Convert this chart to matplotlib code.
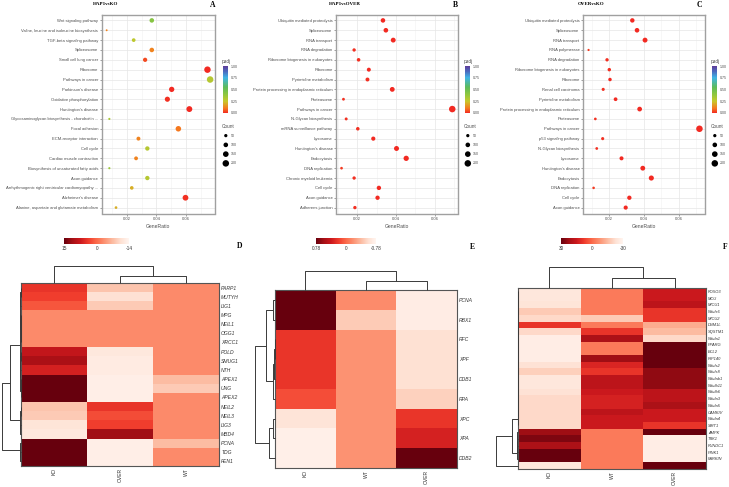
import numpy as np
import matplotlib
matplotlib.use("Agg")
import matplotlib.pyplot as plt
from matplotlib.colors import LinearSegmentedColormap
from matplotlib.ticker import MultipleLocator

plt.rcParams['font.family'] = ['Liberation Sans', 'DejaVu Sans']

W, H = 729, 487

# ---------------- KEGG dot plots ----------------
a_terms = ["Wnt signaling pathway", "Valine, leucine and isoleucine biosynthesis",
           "TGF-beta signaling pathway", "Spliceosome", "Small cell lung cancer", "Ribosome",
           "Pathways in cancer", "Parkinson's disease", "Oxidative phosphorylation",
           "Huntington's disease", "Glycosaminoglycan biosynthesis - chondroitin ...",
           "Focal adhesion", "ECM-receptor interaction", "Cell cycle", "Cardiac muscle contraction",
           "Biosynthesis of unsaturated fatty acids", "Axon guidance",
           "Arrhythmogenic right ventricular cardiomyopathy ...", "Alzheimer's disease",
           "Alanine, aspartate and glutamate metabolism"]
a_ratio = [0.0369, 0.0065, 0.0247, 0.0369, 0.0324, 0.0744, 0.0762, 0.0503, 0.0474, 0.0622,
           0.0083, 0.0548, 0.0279, 0.0339, 0.0263, 0.0083, 0.0339, 0.0234, 0.0596, 0.0128]
a_count = [97, 17, 65, 97, 85, 196, 200, 132, 125, 164, 22, 144, 73, 89, 69, 22, 89, 62, 157, 34]
a_padj = [0.42, 0.12, 0.28, 0.12, 0.04, 0.0, 0.30, 0.0, 0.01, 0.0,
          0.33, 0.10, 0.12, 0.30, 0.12, 0.36, 0.30, 0.20, 0.01, 0.20]

b_terms = ["Ubiquitin mediated proteolysis", "Spliceosome", "RNA transport", "RNA degradation",
           "Ribosome biogenesis in eukaryotes", "Ribosome", "Pyrimidine metabolism",
           "Protein processing in endoplasmic reticulum", "Proteasome", "Pathways in cancer",
           "N-Glycan biosynthesis", "mRNA surveillance pathway", "Lysosome", "Huntington's disease",
           "Endocytosis", "DNA replication", "Chronic myeloid leukemia", "Cell cycle",
           "Axon guidance", "Adherens junction"]
b_ratio = [0.0333, 0.0348, 0.0386, 0.0184, 0.0207, 0.0260, 0.0253, 0.0381, 0.0129, 0.0691,
           0.0143, 0.0203, 0.0283, 0.0403, 0.0453, 0.0119, 0.0184, 0.0312, 0.0305, 0.0188]
b_count = [97, 101, 112, 53, 60, 75, 73, 110, 37, 200, 41, 59, 82, 117, 131, 34, 53, 90, 88, 54]
b_padj = [0.0, 0.0, 0.0, 0.01, 0.01, 0.0, 0.01, 0.0, 0.01, 0.0,
          0.01, 0.01, 0.0, 0.0, 0.0, 0.02, 0.01, 0.0, 0.0, 0.01]

c_terms = ["Ubiquitin mediated proteolysis", "Spliceosome", "RNA transport", "RNA polymerase",
           "RNA degradation", "Ribosome biogenesis in eukaryotes", "Ribosome", "Renal cell carcinoma",
           "Pyrimidine metabolism", "Protein processing in endoplasmic reticulum", "Proteasome",
           "Pathways in cancer", "p53 signaling pathway", "N-Glycan biosynthesis", "Lysosome",
           "Huntington's disease", "Endocytosis", "DNA replication", "Cell cycle", "Axon guidance"]
c_ratio = [0.0334, 0.0361, 0.0407, 0.0083, 0.0189, 0.0202, 0.0206, 0.0167, 0.0238, 0.0376,
           0.0122, 0.0719, 0.0164, 0.0130, 0.0272, 0.0394, 0.0443, 0.0112, 0.0317, 0.0296]
c_count = [93, 100, 113, 23, 53, 56, 57, 46, 66, 105, 34, 200, 46, 36, 76, 110, 123, 31, 88, 82]
c_padj = [0.0, 0.0, 0.0, 0.02, 0.01, 0.01, 0.0, 0.01, 0.0, 0.0,
          0.01, 0.0, 0.01, 0.01, 0.0, 0.0, 0.0, 0.02, 0.0, 0.0]

count_breaks = [50, 100, 150, 200]
padj_ticks = [0.0, 0.25, 0.5, 0.75, 1.0]

# ---------------- heatmaps ----------------
d_rows = ["PARP1", "MUTYH", "LIG1", "MPG", "NEIL1", "OGG1", "XRCC1", "POLD", "SMUG1", "NTH",
          "APEX1", "UNG", "APEX2", "NEIL2", "NEIL3", "LIG3", "MBD4", "PCNA", "TDG", "FEN1"]
d_cols = ["KO", "OVER", "WT"]
d_vals = [[4.9, -7.6, -2.4], [4.0, -10.5, -2.4], [2.0, -8.2, -2.4], [-2.4, -2.4, -2.4],
          [-2.4, -2.4, -2.4], [-2.4, -2.4, -2.4], [-2.4, -2.4, -2.4], [8.6, -11.7, -2.4],
          [10.7, -12.3, -2.4], [6.9, -12.3, -2.4], [15.0, -12.8, -6.8], [15.0, -12.8, -8.2],
          [15.0, -12.8, -2.4], [-7.6, 4.9, -2.4], [-8.2, 2.8, -2.4], [-11.1, 4.0, -2.4],
          [-11.7, 11.5, -2.4], [15.0, -12.8, -6.8], [15.0, -12.8, -2.4], [15.0, -12.8, -2.4]]
d_range = (-14, 15)
d_col_tree = (1.0, 0, (0.42, 1, 2))
d_row_tree = (1.0,
              (0.56,
               (0.06,
                (0.04, (0.03, (0.02, 0, 1), 2), (0.005, (0.0, 3, 4), (0.0, 5, 6))),
                (0.05, (0.03, (0.015, 7, 8), 9), (0.02, (0.01, 10, 11), 12))),
               (0.05, (0.02, 13, 14), (0.03, 15, 16))),
              (0.07, 17, (0.03, 18, 19)))

e_rows = ["PCNA", "RBX1", "RFC", "XPF", "DDB1", "RPA", "XPC", "XPA", "DDB2"]
e_cols = ["KO", "WT", "OVER"]
e_vals = [[0.78, -0.16, -0.70], [0.78, -0.47, -0.70], [0.23, -0.19, -0.59],
          [0.23, -0.19, -0.59], [0.23, -0.19, -0.59], [0.12, -0.19, -0.50],
          [-0.62, -0.19, 0.23], [-0.72, -0.19, 0.34], [-0.72, -0.19, 0.78]]
e_range = (-0.78, 0.78)
e_col_tree = (1.0, 0, (0.48, 1, 2))
e_row_tree = (1.0,
              (0.43, (0.1, 0, 1), (0.08, (0.05, (0.0, 2, 3), 4), 5)),
              (0.3, (0.1, 6, 7), 8))

f_rows = ["FOXO3", "MCU", "MICU1", "Ndufs6", "MICU2", "DNM1L", "SQSTM1", "Ndufa1", "PPARG",
          "BCL2", "RIP140", "Ndufs2", "Ndufs8", "Ndufab1", "Ndufb11", "Ndufb6", "Ndufa3",
          "Ndufa5", "CAMKIV", "Ndufa4", "SIRT1", "AMPK", "TBK1", "FUNDC1", "PINK1", "PARKIN", ""]
f_cols = ["KO", "WT", "OVER"]
f_vals = [[-25, -3, 15], [-25, -3, 15], [-24, -3, 18], [-18, -3, 9], [-21, -18, 9],
          [9, -3, -12], [-21, 9, -15], [-27, 21, -21], [-27, -3, 30], [-27, -3, 30],
          [-27, 23, 30], [-23, 12, 30], [-19, 9, 25], [-25, 18, 25], [-25, 18, 25],
          [-23, 15, 18], [-21, 13, 18], [-21, 13, 21], [-21, 18, 15], [-21, 15, 15],
          [-21, 15, 9], [23, -3, 30], [27, -3, -27], [21, -3, -27], [30, -3, -27],
          [30, -3, -27], [-25, -3, 30]]
f_range = (-30, 30)
f_col_tree = (1.0, 0, (0.48, 1, 2))
f_top = 0
for i in range(1, 21):
    f_top = (0.01, f_top, i)
f_row_tree = (1.0,
              (0.26, f_top, (0.06, (0.05, (0.04, (0.03, 21, 22), 23), 24), 25)),
              26)

# ---------------- helpers ----------------
fig = plt.figure(figsize=(W / 100, H / 100), dpi=100)


def px_axes(x0, y0, x1, y1):
    return fig.add_axes([x0 / W, 1 - y1 / H, (x1 - x0) / W, (y1 - y0) / H])


def px_text(x, y, s, **kw):
    fig.text(x / W, 1 - y / H, s, **kw)


padj_cmap = LinearSegmentedColormap.from_list(
    "padj", [(0.0, "#f22a22"), (0.1, "#f57a1e"), (0.25, "#c8c82a"), (0.4, "#8cc63f"),
             (0.55, "#5cba5a"), (0.75, "#3fb5e5"), (0.88, "#4a6cc0"), (1.0, "#5e3c99")])
SIZE_K = 0.11
TXT = "#4d4d4d"


def dotplot(box, terms, ratio, count, padj, title, title_x, letter_x, legend_x):
    ax = px_axes(*box)
    n = len(terms)
    y = np.arange(n)[::-1]
    ax.scatter(ratio, y, s=np.array(count) * SIZE_K, c=padj, cmap=padj_cmap, vmin=0, vmax=1,
               edgecolors="none", zorder=3)
    lo, hi = min(ratio), max(ratio)
    pad = 0.05 * (hi - lo)
    ax.set_xlim(lo - pad, hi + pad)
    ax.set_ylim(-0.6, n - 0.4)
    ax.set_yticks(y)
    ax.set_yticklabels(terms, fontsize=3.0, color=TXT)
    ax.set_xticks([0.02, 0.04, 0.06])
    ax.set_xticklabels(["0.02", "0.04", "0.06"], fontsize=3.0, color=TXT)
    ax.xaxis.set_minor_locator(MultipleLocator(0.01))
    ax.tick_params(which="both", length=1.5, width=0.4, color="#555555", pad=1)
    ax.tick_params(which="minor", length=0)
    ax.grid(which="major", color="#e6e6e6", lw=0.5)
    ax.grid(which="minor", axis="x", color="#f2f2f2", lw=0.4)
    ax.set_axisbelow(True)
    for sp in ax.spines.values():
        sp.set_color("#a0a0a0")
        sp.set_linewidth(1.0)
    ax.set_xlabel("GeneRatio", fontsize=3.6, color=TXT, labelpad=2)
    px_text(title_x, 4, title, fontsize=3.6, fontweight="bold", family="Liberation Serif",
            ha="center", va="center")
    px_text(letter_x, 5, title[0:0] + letter_map[title], fontsize=5.5, fontweight="bold",
            family="Liberation Serif", ha="center", va="center")

    # padj colour bar
    cax = px_axes(legend_x, 66, legend_x + 5, 113)
    sm = plt.cm.ScalarMappable(cmap=padj_cmap, norm=plt.Normalize(0, 1))
    cb = fig.colorbar(sm, cax=cax, ticks=padj_ticks)
    cb.outline.set_visible(False)
    cb.ax.set_yticklabels(["%.2f" % t for t in padj_ticks], fontsize=2.6, color=TXT)
    cb.ax.tick_params(length=1, width=0.3, color="white", pad=1)
    px_text(legend_x - 1, 61.5, "padj", fontsize=3.4, color=TXT, va="center")

    # count legend
    lax = px_axes(legend_x - 1, 131, legend_x + 18, 168)
    ly = np.arange(len(count_breaks))[::-1]
    lax.scatter(np.full(len(count_breaks), 0.2), ly, s=np.array(count_breaks) * SIZE_K,
                color="black", edgecolors="none")
    for yy, c in zip(ly, count_breaks):
        lax.text(0.45, yy, str(c), fontsize=2.6, color=TXT, va="center")
    lax.set_xlim(0, 1)
    lax.set_ylim(-0.5, len(count_breaks) - 0.5)
    lax.axis("off")
    px_text(legend_x - 1, 127, "Count", fontsize=3.4, color=TXT, va="center")


letter_map = {"HAP1vsKO": "A", "HAP1vsOVER": "B", "OVERvsKO": "C"}

dotplot((101.5, 14.5, 215.3, 213.5), a_terms, a_ratio, a_count, a_padj, "HAP1vsKO", 106, 213, 223)
dotplot((336, 14.5, 457.8, 213.5), b_terms, b_ratio, b_count, b_padj, "HAP1vsOVER", 345, 455, 465)
dotplot((583, 14.5, 705, 213.5), c_terms, c_ratio, c_count, c_padj, "OVERvsKO", 591, 699, 712)


def draw_tree(ax, node, orient):
    if isinstance(node, int):
        return node + 0.5, 0.0
    h, a, b = node
    pa, ha = draw_tree(ax, a, orient)
    pb, hb = draw_tree(ax, b, orient)
    xs, ys = [pa, pa, pb, pb], [ha, h, h, hb]
    if orient == "left":
        xs, ys = ys, xs
    ax.plot(xs, ys, color="#3a3a3a", lw=0.7, clip_on=False, solid_capstyle="butt")
    return (pa + pb) / 2, h


def heatmap(mat_box, col_box, row_box, cbar_box, rows, cols, vals, vrange, col_tree, row_tree,
            letter, letter_xy, row_fs):
    vals = np.array(vals)
    nr, nc = vals.shape
    ax = px_axes(*mat_box)
    mesh = ax.pcolormesh(np.arange(nc + 1), np.arange(nr + 1), vals, cmap="Reds",
                         vmin=vrange[0], vmax=vrange[1])
    ax.set_xlim(0, nc)
    ax.set_ylim(nr, 0)
    ax.yaxis.tick_right()
    ax.set_yticks(np.arange(nr) + 0.5)
    ax.set_yticklabels(rows, fontsize=row_fs, style="italic", color="#333333")
    ax.set_xticks(np.arange(nc) + 0.5)
    ax.set_xticklabels(cols, fontsize=3.6, rotation=90, color="#333333")
    ax.tick_params(length=0, pad=1.5)
    for sp in ax.spines.values():
        sp.set_color("#555555")
        sp.set_linewidth(0.8)

    cax_d = px_axes(*col_box)
    draw_tree(cax_d, col_tree, "top")
    cax_d.set_xlim(0, nc)
    cax_d.set_ylim(0, 1.0)
    cax_d.axis("off")

    rax = px_axes(*row_box)
    draw_tree(rax, row_tree, "left")
    rax.set_ylim(nr, 0)
    rax.set_xlim(1.0, 0)
    rax.axis("off")

    cbx = px_axes(*cbar_box)
    cb = fig.colorbar(mesh, cax=cbx, orientation="horizontal")
    cb.set_ticks([vrange[1], 0, vrange[0]])
    lab = [("%g" % vrange[1]), "0", ("%g" % vrange[0])]
    cb.set_ticklabels(lab, fontsize=3.4, color="#333333")
    cbx.invert_xaxis()
    cb.outline.set_visible(False)
    cbx.tick_params(length=0, pad=1.5)
    px_text(letter_xy[0], letter_xy[1], letter, fontsize=5.5, fontweight="bold",
            family="Liberation Serif", ha="center", va="center")


heatmap((21, 283, 219, 466), (21, 265.5, 219, 283), (1.5, 283, 21, 466), (64, 237.5, 129, 244),
        d_rows, d_cols, d_vals, d_range, d_col_tree, d_row_tree, "D", (240, 246), 3.6)
heatmap((275, 290, 457, 468), (275, 270.5, 457, 290), (254.5, 290, 275, 468), (316, 237.5, 376, 244),
        e_rows, e_cols, e_vals, e_range, e_col_tree, e_row_tree, "E", (472, 247), 3.6)
heatmap((518, 288, 706, 469), (518, 267, 706, 288), (496, 288, 518, 469), (561, 237.5, 623, 244),
        f_rows, f_cols, f_vals, f_range, f_col_tree, f_row_tree, "F", (725, 247), 2.9)

fig.savefig("out.png", dpi=100)
